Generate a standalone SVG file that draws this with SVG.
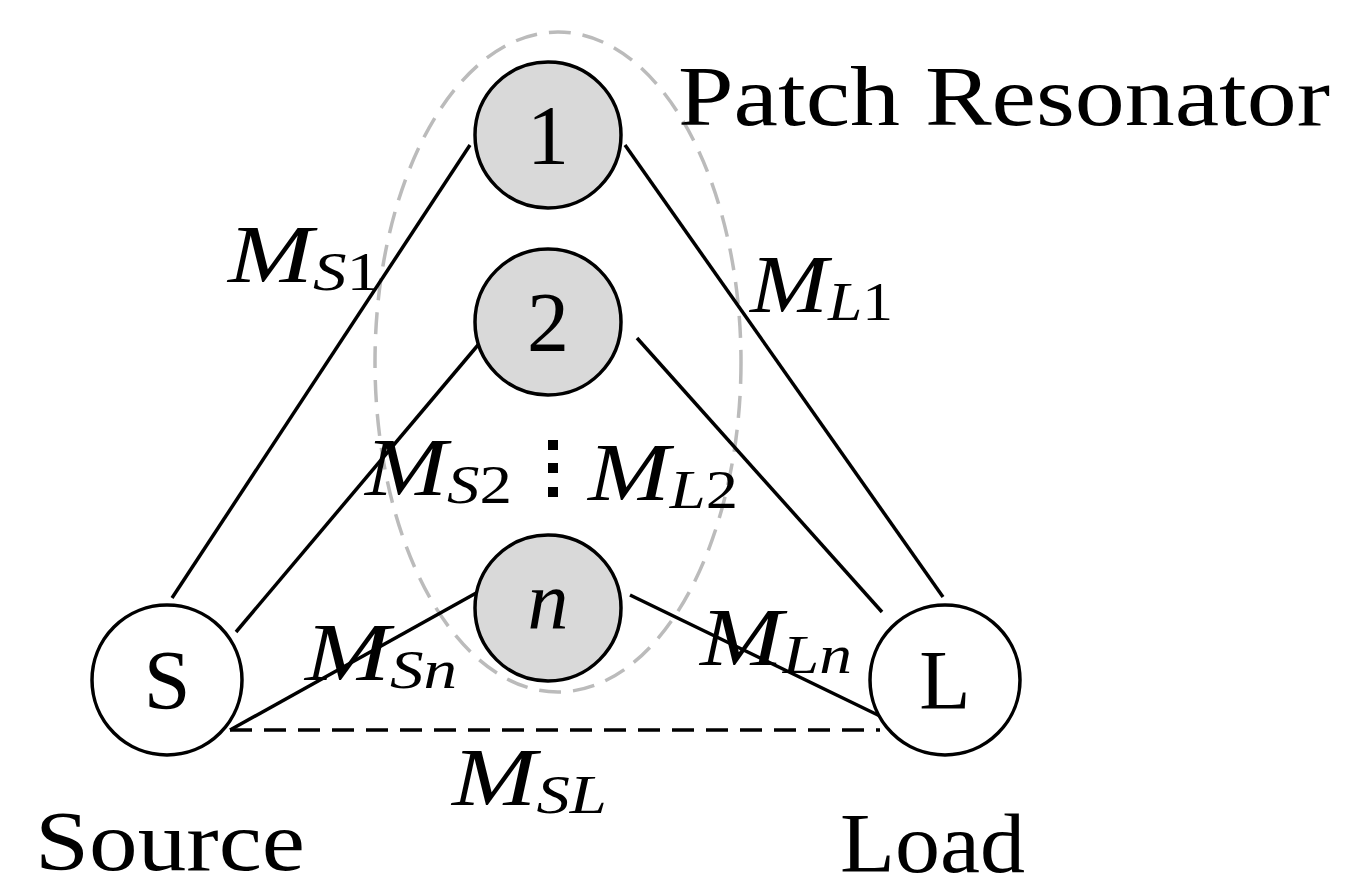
<svg xmlns="http://www.w3.org/2000/svg" width="1354" height="889" viewBox="0 0 1354 889">
<style>
.r{fill:#d9d9d9;stroke:#000;stroke-width:3.5}
.p{fill:#fff;stroke:#000;stroke-width:3.5}
.t{font-family:"Liberation Serif",serif;font-size:84px;fill:#000}
.m{font-family:"Liberation Serif",serif;font-style:italic;font-size:82px;fill:#000}
.s{font-size:54px}
.c line{stroke:#000;stroke-width:3.5}
</style>
<rect width="1354" height="889" fill="#fff"/>
<ellipse cx="558" cy="362" rx="183" ry="330" fill="none" stroke="#bbb" stroke-width="3.5" stroke-dasharray="22 12"/>
<g class="c" id="connectors">
<line x1="172" y1="598" x2="470" y2="145"/>
<line x1="236" y1="632" x2="478" y2="345"/>
<line x1="230" y1="730" x2="478" y2="592"/>
<line x1="625" y1="145" x2="943" y2="597"/>
<line x1="637" y1="338" x2="882" y2="612"/>
<line x1="630" y1="595" x2="882" y2="717"/>
<line x1="230" y1="730" x2="880" y2="730" stroke-dasharray="22 12"/>
</g>
<g id="n1"><circle class="r" cx="548" cy="135" r="73"/><text class="t" x="548" y="164" text-anchor="middle" font-size="90">1</text></g>
<g id="n2"><circle class="r" cx="548" cy="322" r="73"/><text class="t" x="548" y="351" text-anchor="middle" font-size="90">2</text></g>
<g id="nn"><circle class="r" cx="548" cy="608" r="73"/><text class="m" x="548" y="628" text-anchor="middle" font-size="90">n</text></g>
<g id="S"><circle class="p" cx="167" cy="680" r="75"/><text class="t" x="167" y="709" text-anchor="middle" font-size="90">S</text></g>
<g id="L"><circle class="p" cx="945" cy="680" r="75"/><text class="t" x="945" y="709" text-anchor="middle" font-size="90">L</text></g>
<g id="dots" fill="#000"><rect x="548" y="440" width="10" height="10"/><rect x="548" y="463" width="10" height="10"/><rect x="548" y="487" width="10" height="10"/></g>
<text class="t" x="678" y="125" textLength="652" lengthAdjust="spacingAndGlyphs">Patch Resonator</text>
<text class="t" x="35" y="870" textLength="270" lengthAdjust="spacingAndGlyphs">Source</text>
<text class="t" x="840" y="872" textLength="185" lengthAdjust="spacingAndGlyphs">Load</text>
<text class="m" x="228" y="282" textLength="152" lengthAdjust="spacingAndGlyphs">M<tspan class="s" dy="8">S</tspan><tspan class="s" font-style="normal">1</tspan></text>
<text class="m" x="750" y="312" textLength="143" lengthAdjust="spacingAndGlyphs">M<tspan class="s" dy="8">L</tspan><tspan class="s" font-style="normal">1</tspan></text>
<text class="m" x="365" y="495" textLength="147" lengthAdjust="spacingAndGlyphs">M<tspan class="s" dy="8">S</tspan><tspan class="s" font-style="normal">2</tspan></text>
<text class="m" x="588" y="500" textLength="150" lengthAdjust="spacingAndGlyphs">M<tspan class="s" dy="8">L</tspan><tspan class="s" font-style="normal">2</tspan></text>
<text class="m" x="305" y="680" textLength="152" lengthAdjust="spacingAndGlyphs">M<tspan class="s" dy="8">Sn</tspan></text>
<text class="m" x="700" y="665" textLength="152" lengthAdjust="spacingAndGlyphs">M<tspan class="s" dy="8">Ln</tspan></text>
<text class="m" x="452" y="805" textLength="155" lengthAdjust="spacingAndGlyphs">M<tspan class="s" dy="8">SL</tspan></text>
</svg>
